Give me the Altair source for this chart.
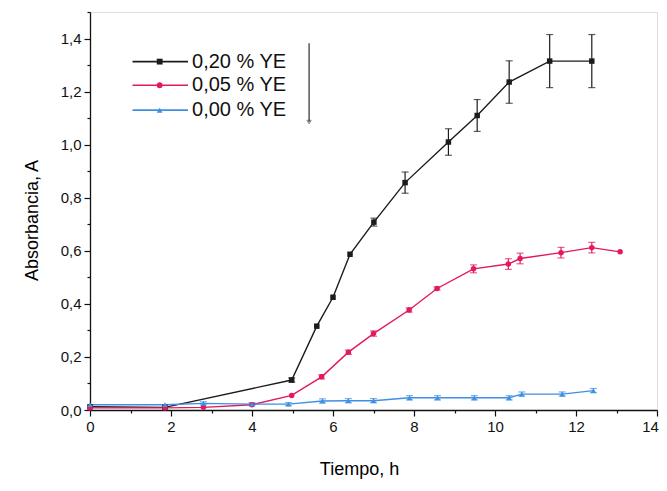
import altair as alt
import pandas as pd

# ---- data ----
series = ["0,20 % YE", "0,05 % YE", "0,00 % YE"]
colors = ["#1c1c1c", "#e3195c", "#3f8fe2"]
shapes = ["square", "circle", "triangle-up"]

t_020 = [0, 1.85, 4.98, 5.6, 6.0, 6.42, 7.01, 7.78, 8.85, 9.56, 10.35, 11.35, 12.39]
a_020 = [0.012, 0.01, 0.113, 0.316, 0.425, 0.587, 0.708, 0.857, 1.01, 1.11, 1.236, 1.315, 1.315]
e_020 = [0, 0, 0.008, 0, 0, 0, 0.015, 0.04, 0.05, 0.06, 0.08, 0.10, 0.10]

t_005 = [0, 1.85, 2.8, 4.0, 4.98, 5.72, 6.38, 7.0, 7.88, 8.57, 9.47, 10.33, 10.62, 11.63, 12.39, 13.09]
a_005 = [0.008, 0.008, 0.01, 0.02, 0.055, 0.125, 0.218, 0.288, 0.377, 0.458, 0.532, 0.55, 0.571, 0.593, 0.612, 0.596]
e_005 = [0, 0, 0, 0, 0, 0.008, 0.008, 0.01, 0.008, 0.006, 0.015, 0.02, 0.02, 0.02, 0.02, 0]

t_000 = [0, 1.85, 2.8, 4.0, 4.9, 5.74, 6.38, 7.0, 7.89, 8.58, 9.49, 10.35, 10.66, 11.66, 12.43]
a_000 = [0.02, 0.02, 0.025, 0.022, 0.022, 0.034, 0.035, 0.035, 0.046, 0.046, 0.046, 0.046, 0.06, 0.06, 0.073]
e_000 = [0, 0, 0.006, 0.006, 0.006, 0.008, 0.008, 0.008, 0.008, 0.008, 0.008, 0.008, 0.008, 0.008, 0.008]

x_ticks = list(range(0, 15))
y_ticks = [round(i * 0.1, 1) for i in range(0, 16)]

# legend placement (data units)
leg_y = [1.313, 1.224, 1.13]
leg_x0, leg_x1, leg_xm, leg_xt = 1.05, 2.42, 1.72, 2.52
arrow_x, arrow_top, arrow_bottom = 5.41, 1.382, 1.085

rows = []
for s, ts, ys_, es in zip(series, [t_020, t_005, t_000], [a_020, a_005, a_000], [e_020, e_005, e_000]):
    for t, a, e in zip(ts, ys_, es):
        rows.append({"series": s, "t": t, "a": a, "lo": a - e, "hi": a + e, "err": e})
df = pd.DataFrame(rows)
err_df = df[df["err"] > 0]

FONT = "Liberation Sans"
xs = alt.Scale(domain=[0, 14], nice=False, zero=False)
ysc = alt.Scale(domain=[0, 1.5], nice=False, zero=False)

x_axis = alt.Axis(
    values=x_ticks, format="d", labelFlush=False,
    labelExpr="datum.value % 2 == 0 ? datum.label : ''",
    labelOffset={"condition": {"test": "datum.value == 14", "value": -7}, "value": 0},
    tickSize={"condition": {"test": "datum.value % 2 == 0", "value": 6}, "value": 3},
    grid=False, title="Tiempo, h", titlePadding=26, titleFontSize=18,
    titleFont=FONT, titleFontWeight="normal", titleX=269,
    labelFont=FONT, labelFontSize=15, labelColor="#111", labelPadding=3,
    domainColor="#111", tickColor="#111", domainWidth=1.3, tickWidth=1.2,
)
y_axis = alt.Axis(
    values=y_ticks, labelFlush=False,
    labelExpr="round(datum.value*10) % 2 == 0 ? replace(format(datum.value, '.1f'), '.', ',') : ''",
    tickSize={"condition": {"test": "round(datum.value*10) % 2 == 0", "value": 6}, "value": 3},
    grid=False, title="Absorbancia, A", titlePadding=19, titleFontSize=18,
    titleFont=FONT, titleFontWeight="normal", titleY=208,
    labelFont=FONT, labelFontSize=15, labelColor="#111", labelPadding=3,
    domainColor="#111", tickColor="#111", domainWidth=1.3, tickWidth=1.2,
)

color = alt.Color("series:N", scale=alt.Scale(domain=series, range=colors), legend=None)
shape = alt.Shape("series:N", scale=alt.Scale(domain=series, range=shapes), legend=None)

base = alt.Chart(df)
X = alt.X("t:Q", scale=xs, axis=x_axis)
Y = alt.Y("a:Q", scale=ysc, axis=y_axis)

lines = base.mark_line(strokeWidth=1.4).encode(x=X, y=Y, color=color, order="t:Q")
errs = alt.Chart(err_df).mark_errorbar(ticks={"size": 7}, thickness=1.2).encode(
    x=alt.X("t:Q", scale=xs, axis=x_axis),
    y=alt.Y("lo:Q", scale=ysc, axis=y_axis),
    y2="hi:Q",
    color=color,
)
pts = base.mark_point(filled=True, size=30, opacity=1).encode(x=X, y=Y, color=color, shape=shape)

leg_df = pd.DataFrame({"series": series, "y": leg_y, "x0": leg_x0, "x1": leg_x1, "xm": leg_xm, "xt": leg_xt})
legend_lines = alt.Chart(leg_df).mark_rule(strokeWidth=1.6).encode(
    x=alt.X("x0:Q", scale=xs, axis=x_axis), x2="x1:Q",
    y=alt.Y("y:Q", scale=ysc, axis=y_axis), color=color)
legend_pts = alt.Chart(leg_df).mark_point(filled=True, size=34, opacity=1).encode(
    x=alt.X("xm:Q", scale=xs, axis=x_axis), y=alt.Y("y:Q", scale=ysc, axis=y_axis),
    color=color, shape=shape)
legend_txt = alt.Chart(leg_df).mark_text(align="left", baseline="middle", fontSize=20, font=FONT, color="#111").encode(
    x=alt.X("xt:Q", scale=xs, axis=x_axis), y=alt.Y("y:Q", scale=ysc, axis=y_axis), text="series:N")

arrow_df = pd.DataFrame({"x": [arrow_x], "y0": [arrow_top], "y1": [arrow_bottom]})
arrow_line = alt.Chart(arrow_df).mark_rule(strokeWidth=1.5, color="#555").encode(
    x=alt.X("x:Q", scale=xs, axis=x_axis), y=alt.Y("y0:Q", scale=ysc, axis=y_axis), y2="y1:Q")
arrow_head = alt.Chart(arrow_df).mark_point(shape="triangle-down", size=18, color="#555", filled=False, strokeWidth=1).encode(
    x=alt.X("x:Q", scale=xs, axis=x_axis), y=alt.Y("y1:Q", scale=ysc, axis=y_axis))

chart = alt.layer(lines, errs, pts, legend_lines, legend_pts, legend_txt, arrow_line, arrow_head).properties(
    width=567, height=398,
    autosize=alt.AutoSizeParams(type="none"),
    padding={"left": 82, "top": 4, "right": 2, "bottom": 73},
).configure_view(stroke=None).configure(background="white")

chart.save("out.html", embed_options={"renderer": "svg", "actions": False})
